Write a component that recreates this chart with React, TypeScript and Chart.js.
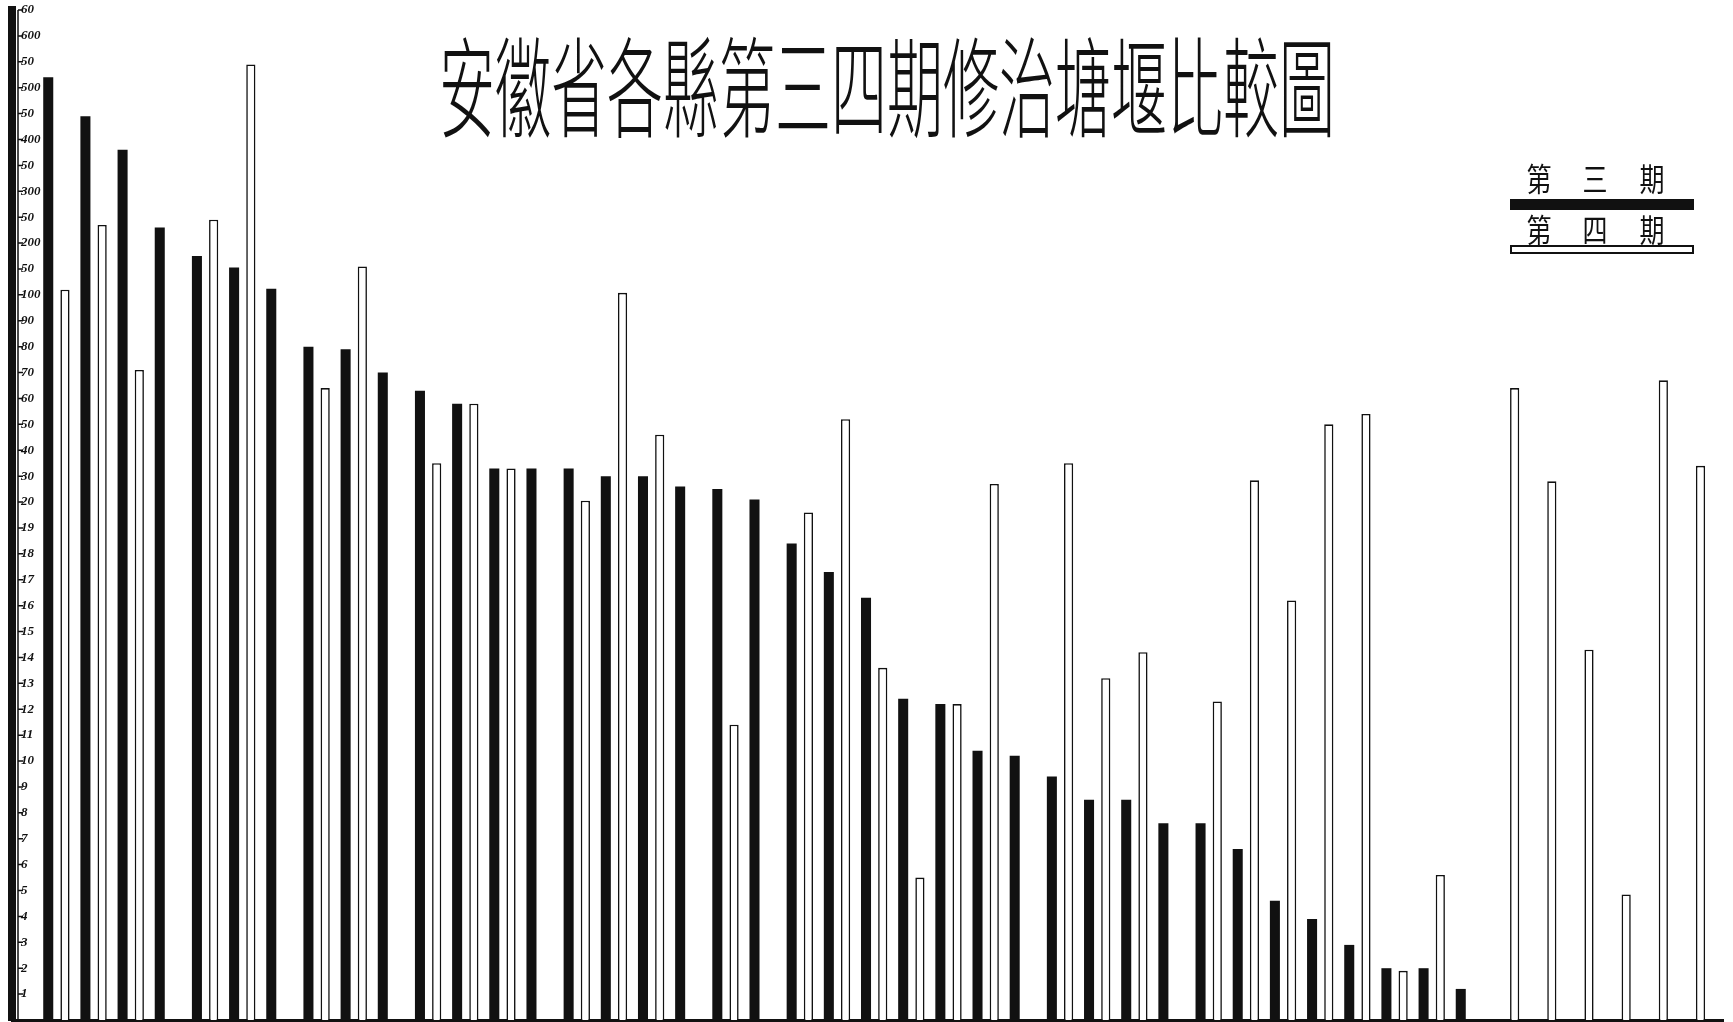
import React, { useEffect, useRef } from 'react';
import { Chart, LinearScale, registerables } from 'chart.js';

// ---- data ----
const TITLE = '安徽省各縣第三四期修治塘堰比較圖';
const LEGEND_THIRD = ['第', '三', '期'];
const LEGEND_FOURTH = ['第', '四', '期'];

// y-axis ticks (uneven, equally spaced on the paper)
const TICK_VALUES = [
  0, 1, 2, 3, 4, 5, 6, 7, 8, 9, 10, 11, 12, 13, 14, 15, 16, 17, 18, 19, 20,
  30, 40, 50, 60, 70, 80, 90, 100,
  150, 200, 250, 300, 350, 400, 450, 500, 550, 600, 650,
];
const TICK_LABELS = [
  '', '1', '2', '3', '4', '5', '6', '7', '8', '9', '10', '11', '12', '13', '14', '15', '16', '17', '18', '19', '20',
  '30', '40', '50', '60', '70', '80', '90', '100',
  '50', '200', '50', '300', '50', '400', '50', '500', '50', '600', '60',
];

// 第三期 (black) and 第四期 (white) per county slot
const THIRD = [
  520, 445, 380, 230, 175, 153, 112, 80, 79, 70,
  63, 58, 33, 33, 33, 30, 30, 26, 25, 21,
  18.4, 17.3, 16.3, 12.4, 12.2, 10.4, 10.2, 9.4, 8.5, 8.5,
  7.6, 7.6, 6.6, 4.6, 3.9, 2.9, 2.0, 2.0, 1.2, null,
  null, null, null, null, null,
];
const FOURTH = [
  110, 235, 71, null, 245, 545, null, 64, 155, null,
  35, 58, 33, null, 20.5, 104, 46, null, 11.4, null,
  19.6, 52, 13.6, 5.5, 12.2, 27, null, 35, 13.2, 14.2,
  null, 12.3, 28.4, 16.2, 50, 54, 1.9, 5.6, null, 64,
  28, 14.3, 4.85, 67, 34,
];
const SLOTS = THIRD.map((_, i) => i);

// ---- piecewise scale: each tick interval has the same height ----
const NPOS = TICK_VALUES.length - 1;
function toPos(v: number): number {
  if (v <= TICK_VALUES[0]) return 0;
  for (let i = 1; i < TICK_VALUES.length; i++) {
    if (v <= TICK_VALUES[i]) {
      const a = TICK_VALUES[i - 1];
      const b = TICK_VALUES[i];
      return i - 1 + (v - a) / (b - a);
    }
  }
  return NPOS;
}
function fromPos(p: number): number {
  if (p <= 0) return TICK_VALUES[0];
  if (p >= NPOS) return TICK_VALUES[NPOS];
  const i = Math.floor(p);
  return TICK_VALUES[i] + (p - i) * (TICK_VALUES[i + 1] - TICK_VALUES[i]);
}

class PiecewiseScale extends LinearScale {
  static id = 'piecewise';
  static defaults = {};
  buildTicks() {
    return TICK_VALUES.map((v) => ({ value: v }));
  }
  getPixelForValue(value: any) {
    if (value === null || value === undefined || isNaN(value)) return NaN;
    return this.getPixelForDecimal(toPos(value) / NPOS);
  }
  getValueForPixel(pixel: number) {
    return fromPos(this.getDecimalForPixel(pixel) * NPOS);
  }
}

Chart.register(...registerables, PiecewiseScale as any);

const INK = '#111111';

const axisDecor = {
  id: 'axisDecor',
  afterDraw(chart: any) {
    const ys = chart.scales.y;
    const { ctx, chartArea } = chart;
    const x0 = chartArea.left + 6;
    ctx.save();
    ctx.strokeStyle = INK;
    ctx.lineWidth = 1.5;
    ctx.beginPath();
    ctx.moveTo(x0, chartArea.top);
    ctx.lineTo(x0, chartArea.bottom);
    ys.ticks.forEach((_: any, i: number) => {
      const py = ys.getPixelForTick(i);
      ctx.moveTo(x0, py);
      ctx.lineTo(x0 + 5, py);
    });
    ctx.stroke();
    ctx.restore();
  },
};

const titlePlugin = {
  id: 'bigTitle',
  afterDraw(chart: any) {
    const ctx = chart.ctx;
    ctx.save();
    ctx.fillStyle = INK;
    ctx.font = '300 56px "Noto Sans CJK TC"';
    ctx.textAlign = 'center';
    ctx.textBaseline = 'middle';
    ctx.translate(887, 88);
    ctx.scale(1, 1.95);
    ctx.fillText(TITLE, 0, 0);
    ctx.restore();
  },
};

const legendPlugin = {
  id: 'periodLegend',
  afterDraw(chart: any) {
    const ctx = chart.ctx;
    const centers = [1539, 1595, 1652];
    ctx.save();
    ctx.fillStyle = INK;
    ctx.font = '400 25px "Noto Sans CJK TC"';
    ctx.textAlign = 'center';
    ctx.textBaseline = 'middle';
    const drawRow = (chars: string[], cy: number) => {
      chars.forEach((c, i) => {
        ctx.save();
        ctx.translate(centers[i], cy);
        ctx.scale(1, 1.25);
        ctx.fillText(c, 0, 0);
        ctx.restore();
      });
    };
    drawRow(LEGEND_THIRD, 179);
    ctx.fillRect(1510, 199, 184, 11);
    drawRow(LEGEND_FOURTH, 230);
    ctx.fillStyle = '#ffffff';
    ctx.strokeStyle = INK;
    ctx.lineWidth = 2;
    ctx.fillRect(1511, 246, 182, 7);
    ctx.strokeRect(1511, 246, 182, 7);
    ctx.restore();
  },
};

export default function App() {
  const ref = useRef<HTMLCanvasElement | null>(null);

  useEffect(() => {
    document.body.style.margin = '0';
    document.body.style.background = '#ffffff';
    const canvas = ref.current;
    if (!canvas) return;
    const chart = new Chart(canvas, {
      type: 'bar',
      data: {
        labels: SLOTS,
        datasets: [
          {
            label: '第三期',
            data: THIRD,
            backgroundColor: INK,
            borderWidth: 0,
            barPercentage: 0.6,
            categoryPercentage: 0.9,
          },
          {
            label: '第四期',
            data: FOURTH,
            backgroundColor: '#ffffff',
            borderColor: INK,
            borderWidth: 1.6,
            barPercentage: 0.55,
            categoryPercentage: 0.9,
          },
        ],
      },
      options: {
        animation: false,
        responsive: false,
        devicePixelRatio: 1,
        layout: { padding: { left: 0, right: 10, top: 10, bottom: 2 } },
        plugins: {
          legend: { display: false },
          tooltip: { enabled: false },
          title: { display: false },
        },
        scales: {
          x: {
            type: 'linear',
            offset: false,
            min: -1.2,
            max: 44.83,
            grid: { display: false, offset: false },
            border: { display: true, width: 3, color: INK },
            ticks: { display: false },
            afterBuildTicks: (s: any) => {
              s.ticks = SLOTS.map((v) => ({ value: v }));
            },
            afterFit: (s: any) => {
              s.height = 0;
              s.paddingLeft = 0;
              s.paddingRight = 0;
            },
          },
          y: {
            type: 'piecewise' as any,
            min: 0,
            max: 650,
            position: 'left',
            grid: { display: false },
            border: { display: true, width: 8, color: INK },
            ticks: {
              mirror: true,
              padding: 9,
              autoSkip: false,
              color: INK,
              font: { family: 'Liberation Serif', size: 13, style: 'italic', weight: 'bold' },
              callback: (v: any) => {
                const k = TICK_VALUES.indexOf(Number(v));
                return k >= 0 ? TICK_LABELS[k] : '';
              },
            },
            afterFit: (s: any) => {
              s.width = 12;
              s.paddingTop = 0;
              s.paddingBottom = 0;
            },
          },
        },
      } as any,
      plugins: [axisDecor, titlePlugin, legendPlugin],
    });
    return () => chart.destroy();
  }, []);

  return (
    <div style={{ position: 'absolute', left: 0, top: 0, width: 1733, height: 1022, background: '#fff' }}>
      <canvas ref={ref} width={1733} height={1022} style={{ width: 1733, height: 1022, display: 'block' }} />
    </div>
  );
}
